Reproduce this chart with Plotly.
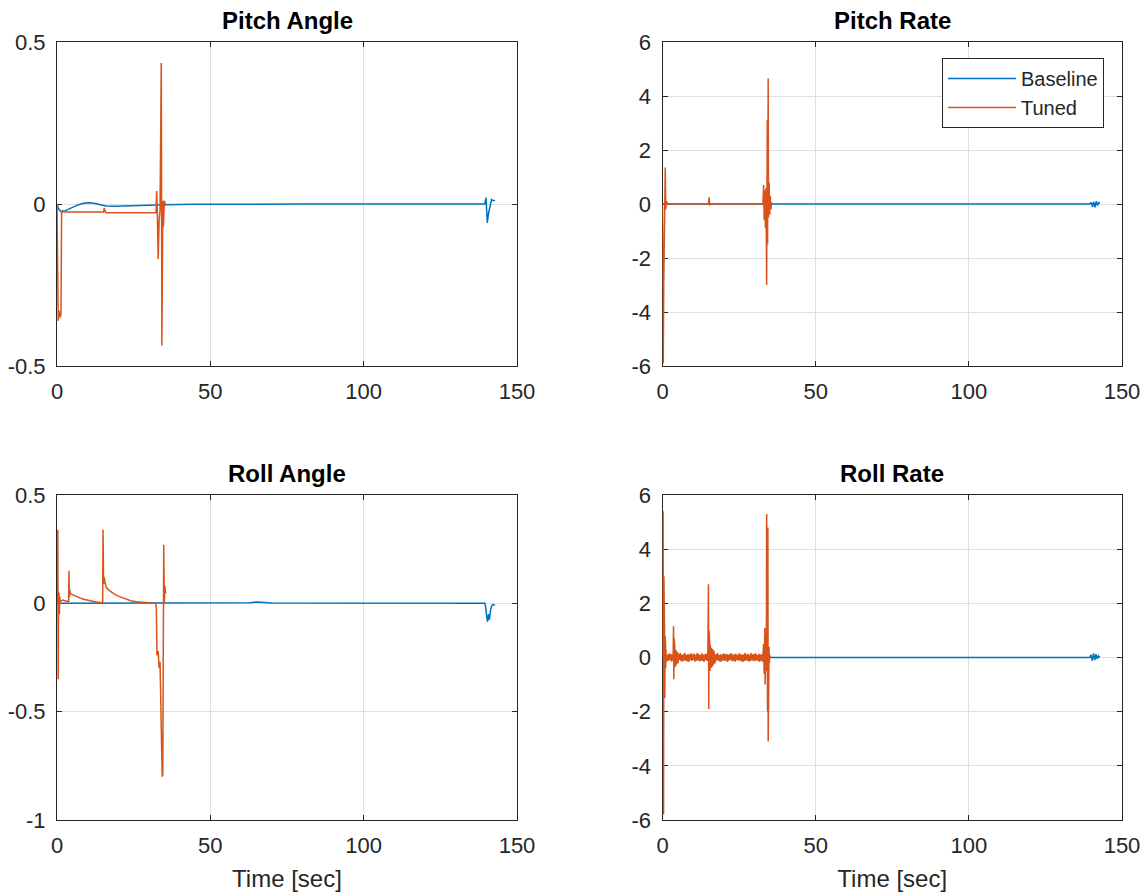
import numpy as np
import plotly.graph_objects as go

BLUE = "#0072BD"
ORANGE = "#D95319"
FONT = "Liberation Sans, Arial, sans-serif"
TXT = "#262626"

x_ticks = [0, 50, 100, 150]
x_ticktext = ["0", "50", "100", "150"]

# ---------------- Pitch Angle ----------------
t_pa_base = [0, 0.5, 1.5, 3, 5, 7, 9, 10.5, 12, 14, 16, 19, 22, 26, 30, 35, 45, 60, 80, 100, 120,
             139.5, 139.9, 140.3, 140.7, 141.2, 141.7, 142.3, 142.8]
pa_base = [0, -0.015, -0.026, -0.02, -0.01, -0.002, 0.003, 0.004, 0.002, -0.003, -0.006, -0.007, -0.006,
           -0.004, -0.003, -0.002, -0.001, 0, 0, 0, 0,
           0, 0.02, -0.058, -0.03, -0.01, 0.014, 0.01, 0.012]
t_pa_tuned = [0, 0.25, 0.4, 0.7, 1.0, 1.3, 1.5, 1.8, 2.5, 15.2, 15.4, 15.6, 16.0, 32.3, 32.5, 32.7,
              33.0, 33.3, 33.6, 34.0, 34.2, 34.5, 34.7, 35.0, 35.3]
pa_tuned = [0, -0.35, -0.36, -0.33, -0.35, -0.34, -0.03, -0.02, -0.025, -0.025, -0.012, -0.02, -0.027,
            -0.027, 0.04, -0.02, -0.17, -0.05, -0.02, 0.435, -0.437, 0.01, -0.07, 0.01, 0.0]
pa_yticks = [-0.5, 0, 0.5]
pa_yticktext = ["-0.5", "0", "0.5"]

# ---------------- Pitch Rate ----------------
t_pr_base = [0, 139.5, 140.0, 140.4, 140.8, 141.2, 141.6, 142.0, 142.4, 142.8]
pr_base = [0, 0, 0.06, -0.1, 0.08, -0.12, 0.1, -0.05, 0.05, 0.02]
t_pr_tuned = [0, 0.25, 0.4, 0.55, 0.7, 0.9, 1.05, 1.3, 1.6, 15.0, 15.2, 15.4, 15.6, 32.8, 33.0, 33.2,
              33.4, 33.6, 33.8, 34.0, 34.2, 34.3, 34.5, 34.6, 34.8, 35.0, 35.2, 35.4, 35.6, 35.8]
pr_tuned = [0, -5.9, -3.0, -0.8, 0.3, 1.35, -0.2, 0.1, 0, 0, 0.25, -0.05, 0, 0, 0.7, -0.6,
            0.5, -0.9, 0.6, -3.0, 3.1, -1.5, 4.65, -0.5, 0.8, -0.4, 0.3, -0.2, 0.05, 0]
rate_yticks = [-6, -4, -2, 0, 2, 4, 6]
rate_yticktext = ["-6", "-4", "-2", "0", "2", "4", "6"]

# ---------------- Roll Angle ----------------
t_ra_base = [0, 60, 63, 65, 67, 70, 139.5, 139.8, 140.1, 140.4, 140.7, 141.0, 141.4, 141.8, 142.3, 142.8]
ra_base = [0, 0, 0.003, 0.006, 0.004, 0.001, 0, -0.02, -0.06, -0.085, -0.05, -0.075, -0.03, -0.01,
           -0.005, -0.01]
t_ra_tuned = [0, 0.25, 0.4, 0.5, 0.6, 0.7, 0.8, 0.9, 1.0, 2.0, 3.0, 3.8, 3.9, 4.05, 4.2, 4.4,
              5.0, 6.0, 7.0, 8.0, 9.0, 10.0, 11.0, 12.0, 13.0, 14.9, 15.0, 15.2, 15.4, 15.6,
              16.0, 17.0, 18.0, 19.0, 20.0, 21.0, 22.0, 23.0, 24.0, 26.0, 28.0, 30.0,
              32.2, 32.4, 32.6, 33.0, 33.3, 33.6, 34.0, 34.3, 34.5, 34.6, 34.8, 35.0, 35.2, 35.4, 35.7]
ra_tuned = [0, 0.34, -0.35, 0.05, -0.17, 0.04, -0.05, 0.03, 0.01, 0.015, 0.01, 0.01, 0.15, 0.03, 0.06, 0.045,
            0.04, 0.033, 0.027, 0.022, 0.018, 0.014, 0.011, 0.008, 0.006, 0.003, 0.34, 0.09, 0.12, 0.1,
            0.075, 0.06, 0.048, 0.04, 0.033, 0.027, 0.021, 0.016, 0.012, 0.007, 0.004, 0.002,
            0.0, -0.02, -0.24, -0.22, -0.3, -0.27, -0.5, -0.8, -0.79, -0.4, 0.27, 0.0, 0.08, 0.05, 0.05]
ra_yticks = [-1, -0.5, 0, 0.5]
ra_yticktext = ["-1", "-0.5", "0", "0.5"]

# ---------------- Roll Rate ----------------
t_rr_base = [0, 139.5, 139.9, 140.3, 140.7, 141.1, 141.5, 141.9, 142.3, 142.8]
rr_base = [0, 0, 0.1, -0.12, 0.15, -0.1, 0.12, -0.05, 0.06, 0.0]

# transient events of the tuned roll rate (time, value)
t_rr_start = [0, 0.2, 0.35, 0.45, 0.55, 0.65, 0.75, 0.85, 0.95, 1.0, 1.05, 1.1, 1.15]
rr_start = [0, 5.4, -5.8, 3.0, -2.6, 1.2, -1.5, 0.8, -0.6, 0.5, -0.4, 0.3, -0.3]
t_rr_ev1 = [3.6, 3.7, 3.8, 3.9, 4.0, 4.1, 4.2, 4.35, 4.5, 4.7, 4.9, 5.1]
rr_ev1 = [1.15, -0.8, 0.7, -0.5, 0.45, -0.35, 0.3, -0.3, 0.25, -0.25, 0.2, -0.2]
t_rr_ev2 = [15.0, 15.1, 15.2, 15.3, 15.4, 15.5, 15.65, 15.8, 16.0, 16.2, 16.4, 16.6, 16.8, 17.0]
rr_ev2 = [2.7, -1.9, 1.0, -0.8, 0.6, -0.5, 0.45, -0.4, 0.35, -0.35, 0.3, -0.28, 0.25, -0.22]
t_rr_end = [33.0, 33.2, 33.4, 33.5, 33.7, 33.9, 34.0, 34.1, 34.2, 34.3, 34.4, 34.5, 34.6, 34.7,
            34.8, 34.9, 35.0, 35.2]
rr_end = [0.5, -0.6, 1.1, -1.0, 0.8, -0.5, 5.3, 0.5, 5.1, -2.0, 4.8, -3.1, 1.0, -0.8,
          0.4, -0.2, 0.1, 0]
# small steady oscillation between events (read as a band of about +/-0.15)
rr_ripple = [0.12, -0.14, 0.10, -0.12, 0.15, -0.10, 0.13, -0.15, 0.11, -0.12,
             0.14, -0.09, 0.16, -0.13, 0.10, -0.15, 0.12, -0.11, 0.17, -0.12,
             0.09, -0.14, 0.13, -0.16, 0.11, -0.10, 0.15, -0.13, 0.12, -0.09,
             0.14, -0.15, 0.10, -0.12, 0.16, -0.11, 0.13, -0.14, 0.09, -0.13,
             0.15, -0.12, 0.11, -0.16, 0.12, -0.10, 0.14, -0.13, 0.10, -0.15,
             0.13, -0.11, 0.16, -0.12, 0.09, -0.14, 0.12, -0.15, 0.11, -0.10,
             0.15, -0.13, 0.12, -0.11, 0.14, -0.16, 0.10, -0.12, 0.13, -0.09,
             0.16, -0.14, 0.11, -0.13, 0.12, -0.15, 0.14, -0.10, 0.09, -0.12,
             0.15, -0.11, 0.13, -0.14, 0.10, -0.16, 0.12, -0.13, 0.17, -0.11,
             0.11, -0.12, 0.14, -0.15, 0.10, -0.13, 0.16, -0.10, 0.12, -0.14,
             0.13, -0.12, 0.15, -0.11, 0.09, -0.13, 0.14, -0.16, 0.11, -0.12,
             0.12, -0.15]

# assemble tuned roll rate: ripple samples every 0.25 s in the quiet stretches
t_rip1 = [1.2 + 0.25 * i for i in range(10)]
t_rip2 = [5.3 + 0.25 * i for i in range(39)]
t_rip3 = [17.2 + 0.25 * i for i in range(63)]
t_rr_tuned = t_rr_start + t_rip1 + t_rr_ev1 + t_rip2 + t_rr_ev2 + t_rip3 + t_rr_end
rr_tuned = (rr_start + rr_ripple[0:10] + rr_ev1 + rr_ripple[10:49] + rr_ev2
            + rr_ripple[49:112] + rr_end)

# ---------------- Figure ----------------
W, H = 1146, 894
XL = [57 / W, 517 / W]
XR = [662.5 / W, 1122 / W]
YT = [1 - 366 / H, 1 - 42 / H]
YB = [1 - 820 / H, 1 - 495 / H]

panels = [
    ("Pitch Angle", "x", "y", XL, YT, t_pa_base, pa_base, t_pa_tuned, pa_tuned, [-0.5, 0.5], pa_yticks, pa_yticktext, False),
    ("Pitch Rate", "x2", "y2", XR, YT, t_pr_base, pr_base, t_pr_tuned, pr_tuned, [-6, 6], rate_yticks, rate_yticktext, False),
    ("Roll Angle", "x3", "y3", XL, YB, t_ra_base, ra_base, t_ra_tuned, ra_tuned, [-1, 0.5], ra_yticks, ra_yticktext, True),
    ("Roll Rate", "x4", "y4", XR, YB, t_rr_base, rr_base, t_rr_tuned, rr_tuned, [-6, 6], rate_yticks, rate_yticktext, True),
]

fig = go.Figure()
layout = dict(
    width=W, height=H,
    margin=dict(l=0, r=0, t=0, b=0, autoexpand=False),
    paper_bgcolor="white", plot_bgcolor="white",
    font=dict(family=FONT, size=22, color=TXT),
    showlegend=True,
    legend=dict(x=1104 / W, xanchor="right", y=1 - 58 / H, yanchor="top",
                bgcolor="white", bordercolor=TXT, borderwidth=1,
                font=dict(family=FONT, size=20, color=TXT), itemwidth=68,
                tracegroupgap=0),
    annotations=[],
)

for i, (title, xa, ya, xd, yd, tb, vb, tt, vt, yr, yt, ytt, xlabel) in enumerate(panels):
    fig.add_trace(go.Scatter(x=tb, y=vb, mode="lines", name="Baseline",
                             line=dict(color=BLUE, width=1.5), xaxis=xa, yaxis=ya,
                             showlegend=(i == 1), legendgroup="b"))
    fig.add_trace(go.Scatter(x=tt, y=vt, mode="lines", name="Tuned",
                             line=dict(color=ORANGE, width=1.5), xaxis=xa, yaxis=ya,
                             showlegend=(i == 1), legendgroup="t"))
    xkey = "xaxis" if xa == "x" else "xaxis" + xa[1:]
    ykey = "yaxis" if ya == "y" else "yaxis" + ya[1:]
    common = dict(showline=True, linecolor=TXT, linewidth=1, mirror="ticks",
                  ticks="inside", ticklen=5, tickcolor=TXT, tickwidth=1,
                  showgrid=True, gridcolor="#DFDFDF", gridwidth=1, zeroline=False,
                  automargin=False, layer="below traces",
                  tickfont=dict(family=FONT, size=22, color=TXT))
    xdict = dict(domain=xd, anchor=ya, range=[0, 150], tickvals=x_ticks, ticktext=x_ticktext,
                 ticklabelstandoff=6, **common)
    if xlabel:
        xdict["title"] = dict(text="Time [sec]", font=dict(family=FONT, size=24, color=TXT), standoff=12)
    layout[xkey] = xdict
    layout[ykey] = dict(domain=yd, anchor=xa, range=yr, tickvals=yt, ticktext=ytt,
                        ticklabelstandoff=6, **common)
    layout["annotations"].append(dict(
        text="<b>" + title + "</b>", x=(xd[0] + xd[1]) / 2, y=yd[1], xref="paper", yref="paper",
        xanchor="center", yanchor="bottom", yshift=6, showarrow=False,
        font=dict(family=FONT, size=24, color="black")))

fig.update_layout(**layout)
fig.write_html("out.html", config={"displayModeBar": False},
               post_script="document.body.style.margin='0';document.body.style.overflow='hidden';")
